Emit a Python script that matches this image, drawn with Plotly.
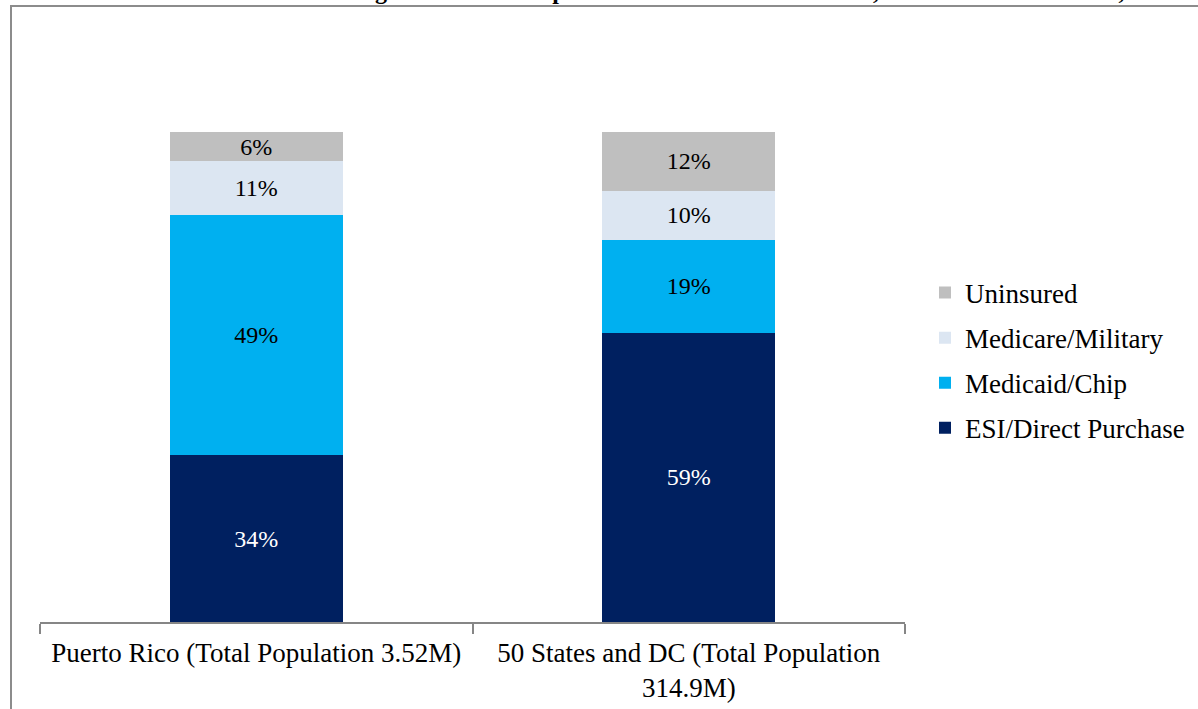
import plotly.graph_objects as go

categories = ["Puerto Rico (Total Population 3.52M)",
              "50 States and DC (Total Population<br>314.9M)"]
series_names = ["ESI/Direct Purchase", "Medicaid/Chip", "Medicare/Military", "Uninsured"]
esi = [34, 59]
medicaid = [49, 19]
medicare = [11, 10]
uninsured = [6, 12]
values = [esi, medicaid, medicare, uninsured]
colors = ["#002060", "#00B0F0", "#DCE6F2", "#BFBFBF"]
label_colors = ["white", "black", "black", "black"]
title_text = ("Exhibit 1: Health Coverage of the Total Population in Puerto Rico and US, "
              "2014 Census Estimates, 2014")

FONT = "Liberation Serif, Times New Roman, serif"

W, H = 1198, 709
ML, MT = 40, 132
PLOT_R, PLOT_B = 905, 622
MR, MB = W - PLOT_R, H - PLOT_B
PW, PH = PLOT_R - ML, PLOT_B - MT


def px_x(p):
    return (p - ML) / PW


def px_y(p):
    return (PLOT_B - p) / PH


fig = go.Figure()
for i, (name, vals, col, lc) in enumerate(zip(series_names, values, colors, label_colors)):
    fig.add_trace(go.Bar(
        name=name, x=categories, y=vals, legendgroup=name,
        legendrank=1000 - i,
        marker=dict(color=col, line=dict(width=0)),
        texttemplate="%{y}%", textposition="inside", insidetextanchor="middle",
        textfont=dict(family=FONT, size=24, color=lc),
        constraintext="none", textangle=0,
        hoverinfo="skip",
    ))

fig.update_layout(
    width=W, height=H,
    margin=dict(l=ML, r=MR, t=MT, b=MB, autoexpand=False),
    barmode="stack", bargap=0.6,
    paper_bgcolor="white", plot_bgcolor="white",
    font=dict(family=FONT, size=27, color="black"),
    showlegend=True,
    legend=dict(
        traceorder="grouped", tracegroupgap=7,
        x=px_x(925), xanchor="left",
        y=px_y(360.5), yanchor="middle",
        font=dict(family=FONT, size=27, color="black"),
        bgcolor="rgba(0,0,0,0)",
    ),
    xaxis=dict(
        showline=True, linecolor="#868686", linewidth=1.5, automargin=False,
        ticks="outside", tickson="boundaries", ticklen=10, tickcolor="#868686",
        tickwidth=1.5, showgrid=False, zeroline=False, ticklabelstandoff=6,
        tickfont=dict(family=FONT, size=27, color="black"),
    ),
    yaxis=dict(visible=False, range=[0, 100]),
)

fig.add_shape(type="rect", xref="paper", yref="paper",
              x0=px_x(11), x1=px_x(1225), y0=px_y(735), y1=px_y(6),
              line=dict(color="#8C8C8C", width=2), fillcolor="rgba(0,0,0,0)",
              layer="below")

fig.add_annotation(text="<b>" + title_text + "</b>", xref="paper", yref="paper",
                   x=px_x(115), xanchor="left", y=px_y(-9), yanchor="middle",
                   showarrow=False, font=dict(family=FONT, size=24, color="black"))

fig.write_html("out.html", config={"displayModeBar": False},
               post_script="document.body.style.margin='0';")
